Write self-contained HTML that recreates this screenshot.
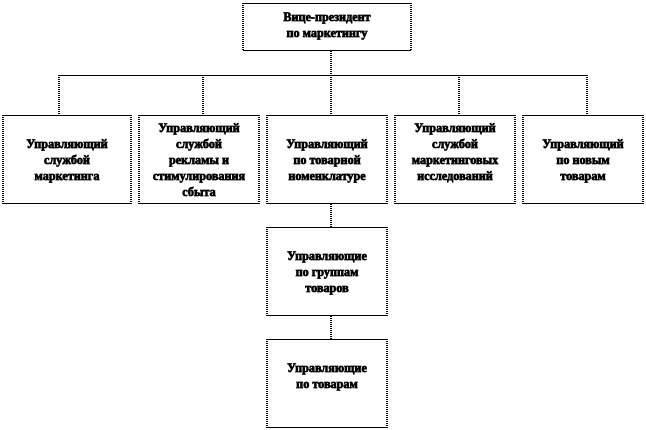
<!DOCTYPE html>
<html><head><meta charset="utf-8"><style>
html,body{margin:0;padding:0;background:#fff;width:646px;height:430px;overflow:hidden}
svg{display:block}
text{font-family:"Liberation Serif",serif;font-weight:bold;font-size:12.2px;text-anchor:middle;fill:#000;stroke:#000;stroke-width:.7px}
</style></head><body>
<svg width="646" height="430" viewBox="0 0 646 430" xmlns="http://www.w3.org/2000/svg">
<g fill="none" stroke="#000" stroke-width="1" shape-rendering="crispEdges">
<path d="M59 75.5H587"/>
<path d="M243 3.5H411M243 50.5H411M3 115.5H131M3 203.5H131M139 115.5H259M139 203.5H259M267 115.5H387M267 203.5H387M395 115.5H515M395 203.5H515M523 115.5H643M523 203.5H643M267 227.5H387M267 315.5H387M267 339.5H387M267 427.5H387"/>
<g stroke-dasharray="1 1" stroke-width="2">
<path d="M243 3V51M411 3V51M3 115V204M131 115V204M139 115V204M259 115V204M267 115V204M387 115V204M395 115V204M515 115V204M523 115V204M643 115V204M267 227V316M387 227V316M267 339V428M387 339V428"/>
<path d="M331 51V115M59 75V115M203 75V115M459 75V115M587 75V115M331 204V227M331 316V339"/>
</g>
</g>
<text x="327" y="21">Вице-президент</text>
<text x="327" y="37">по маркетингу</text>
<text x="67" y="148">Управляющий</text>
<text x="67" y="164">службой</text>
<text x="67" y="180">маркетинга</text>
<text x="199" y="132">Управляющий</text>
<text x="199" y="148">службой</text>
<text x="199" y="164">рекламы и</text>
<text x="199" y="180">стимулирования</text>
<text x="199" y="196">сбыта</text>
<text x="327" y="148">Управляющий</text>
<text x="327" y="164">по товарной</text>
<text x="327" y="180">номенклатуре</text>
<text x="455" y="132">Управляющий</text>
<text x="455" y="148">службой</text>
<text x="455" y="164">маркетинговых</text>
<text x="455" y="180">исследований</text>
<text x="583" y="148">Управляющий</text>
<text x="583" y="164">по новым</text>
<text x="583" y="180">товарам</text>
<text x="327" y="260">Управляющие</text>
<text x="327" y="276">по группам</text>
<text x="327" y="292">товаров</text>
<text x="327" y="372">Управляющие</text>
<text x="327" y="388">по товарам</text>
</svg>
</body></html>
